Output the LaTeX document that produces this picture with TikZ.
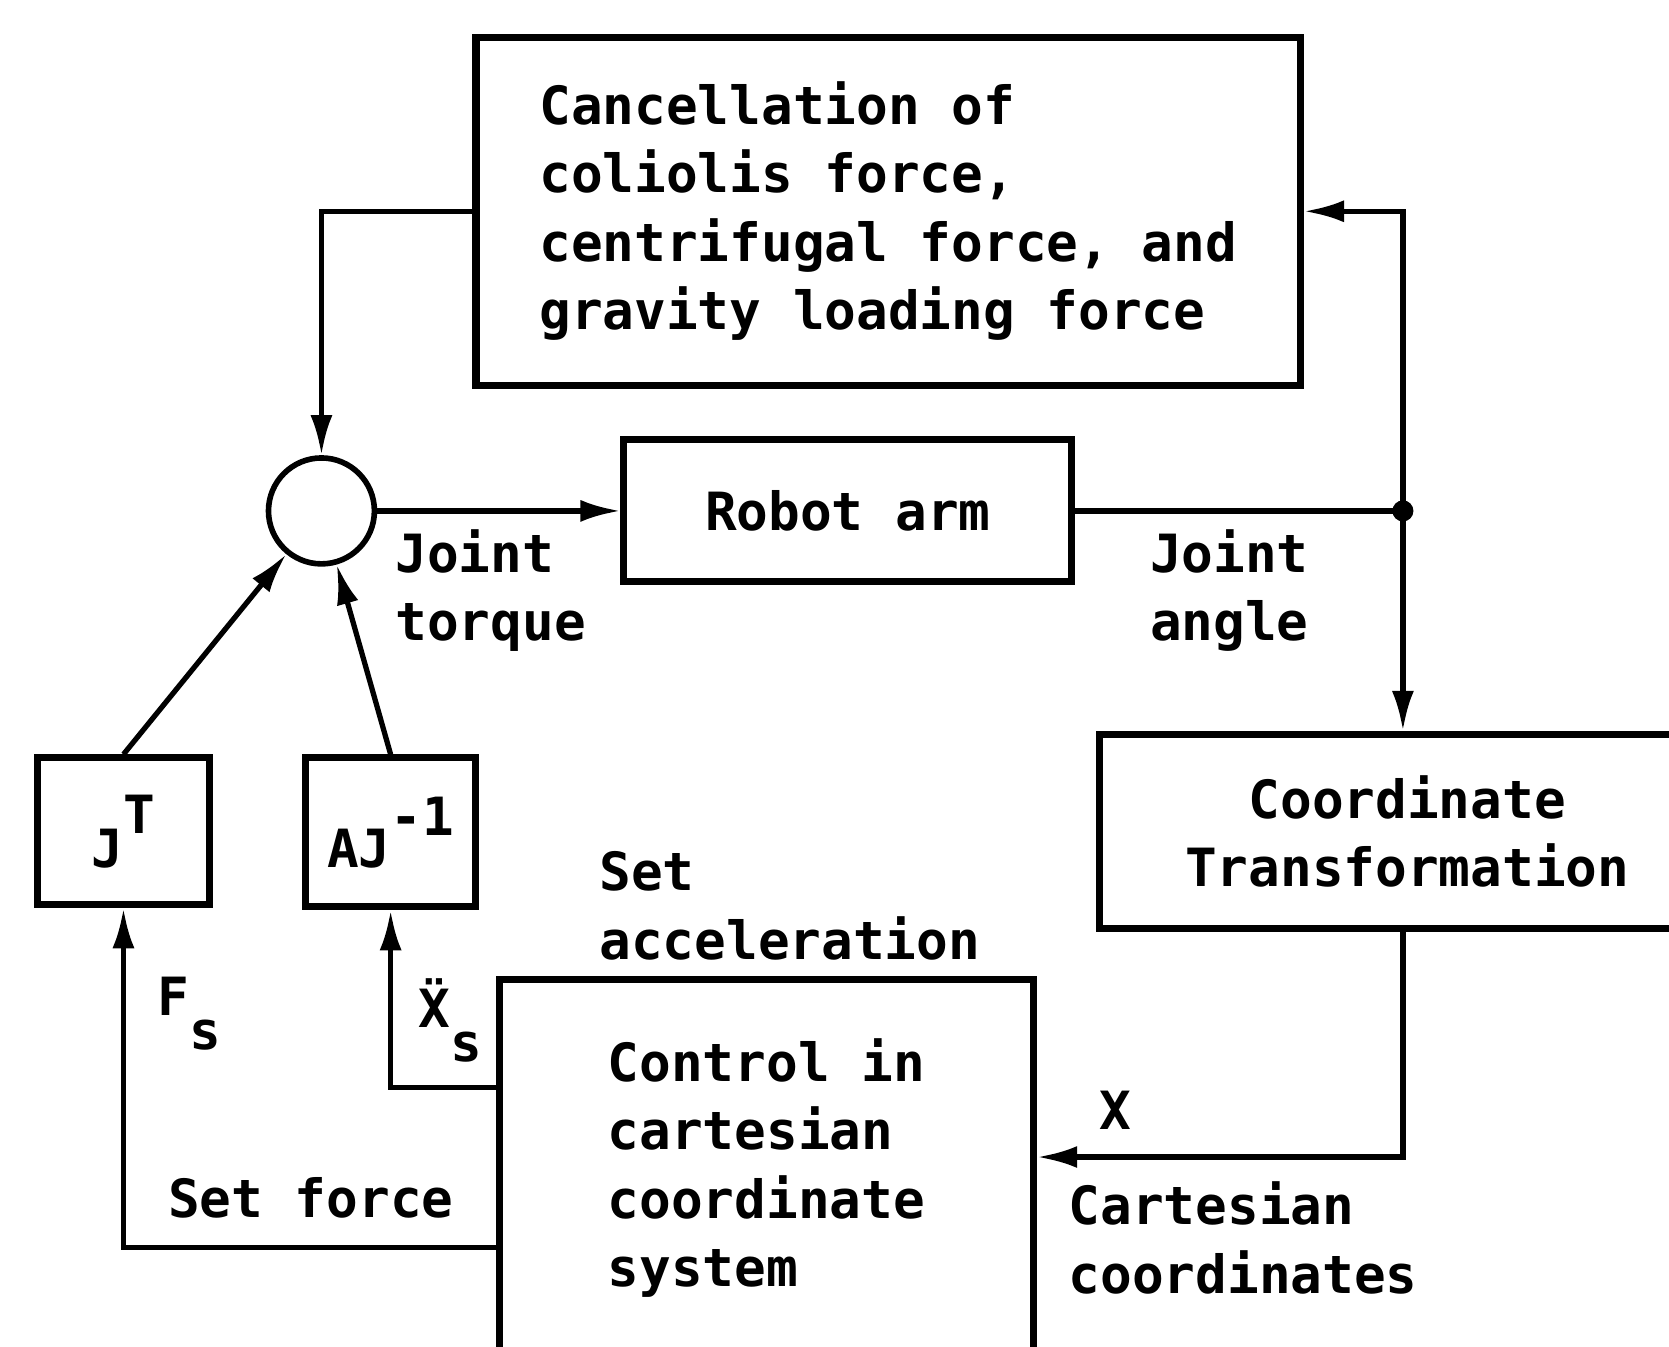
\documentclass[tikz,border=0pt]{standalone}
\usepackage{fontspec}
\setmonofont{DejaVu Sans Mono}
\usetikzlibrary{arrows.meta,positioning,calc}

\begin{document}
\begin{tikzpicture}[
  x={(0.010644cm,0)}, y={(0,-0.010644cm)},
  every node/.style={font=\ttfamily\bfseries\fontsize{15}{19.5}\selectfont},
  block/.style={rectangle,draw,line width=2pt,inner sep=0pt,align=left},
  sumnode/.style={circle,draw,line width=1.6pt,minimum size=1.06cm,inner sep=0pt},
  lbl/.style={inner sep=0pt,align=left},
  flow/.style={line width=1.5pt,-{Latex[length=4mm,width=2.2mm]}},
  link/.style={line width=1.5pt},
]
\useasboundingbox (0,0) rectangle (1568,1265);
\clip (0,0) rectangle (1568,1265);
% Blocks
\node[block,minimum width=8.25cm,minimum height=3.48cm] (cancel) at (834.5,198.5)
  {Cancellation of\\coliolis force,\\centrifugal force, and\\gravity loading force};
\node[sumnode] (sum) at (302,480) {};
\node[block,minimum width=4.48cm,minimum height=1.42cm] (robot) at (796.5,480) {Robot arm};
\node[block,align=center,minimum width=6.15cm,minimum height=1.94cm] (ct) at (1322,781)
  {Coordinate\\Transformation};
\node[block,minimum width=5.35cm,minimum height=3.78cm] (control) at (720,1097.5)
  {Control in\\cartesian\\coordinate\\system};
\node[block,minimum width=1.72cm,minimum height=1.47cm] (jt) at (116,781)
  {J\raisebox{0.65em}{T}};
\node[block,minimum width=1.70cm,minimum height=1.49cm] (ajinv) at (367,782)
  {AJ\raisebox{0.6em}{-1}};
\coordinate (jn) at (1318,480);
% Labels
\node[lbl] (torque) at (461,555) {Joint\\torque};
\node[lbl] (angle) at (1155,555) {Joint\\angle};
\node[lbl] (setacc) at (742,851) {Set\\acceleration};
\node[lbl] (setforce) at (292,1125) {Set force};
\node[lbl] (cart) at (1168,1163) {Cartesian\\coordinates};
\node[lbl] (xlbl) at (1048,1043) {X};
\node[lbl] (fs) at (178,952) {F\raisebox{-0.65em}{s}};
\node[lbl] (xs) at (423,959) {Ẍ\raisebox{-0.65em}{s}};
% Main loop
\draw[flow] (cancel.west) -| (sum.north);
\draw[flow] (sum.east) -- (robot.west);
\draw[link] (robot.east) -- (jn);
\fill (jn) circle (3pt);
\draw[flow] (jn) |- (cancel.east);
\draw[flow] (jn) -- (jn |- ct.north);
\draw[flow] (ct.south -| jn) |- (control.east |- 0,1087);
% Set values back to the summing point
\draw[flow] (control.west |- 0,1022) -| (ajinv.south);
\draw[flow] (control.west |- 0,1172) -| (jt.south);
\draw[flow] (jt.north) -- (sum);
\draw[flow] (ajinv.north) -- (sum);
\end{tikzpicture}
\end{document}
